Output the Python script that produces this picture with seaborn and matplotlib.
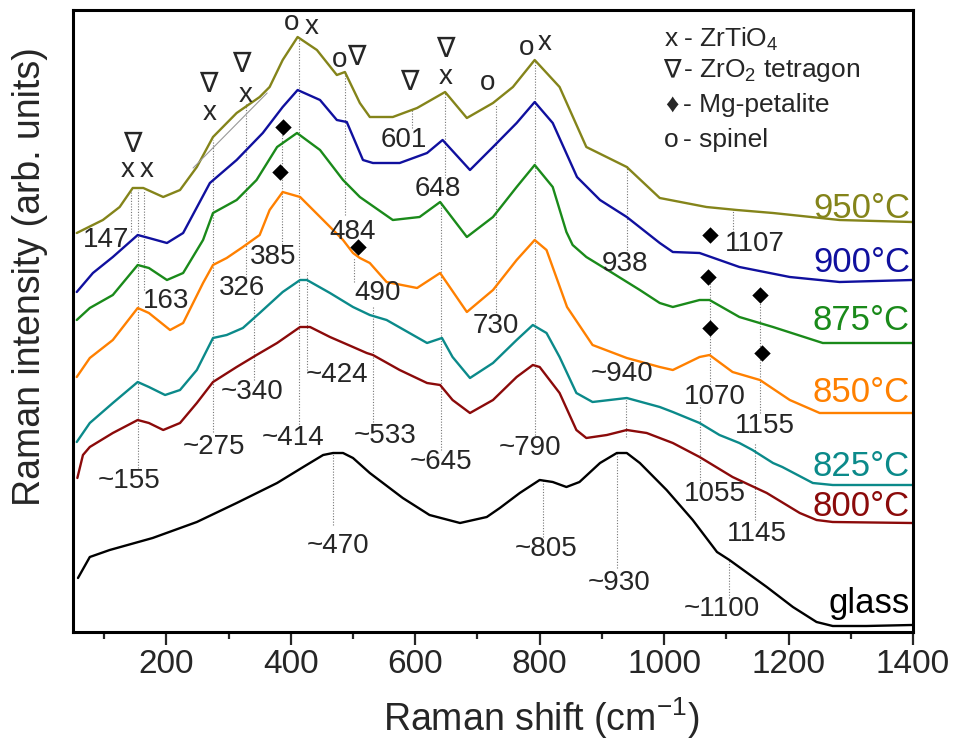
#!/usr/bin/env python3
"""Raman spectra of the glass and of the glass-ceramics heat treated at 800-950 C."""

import matplotlib

matplotlib.use("Agg")
import matplotlib.pyplot as plt
import pandas as pd
import seaborn as sns
from matplotlib.ticker import MultipleLocator

# Spectra (Raman shift in cm-1, intensity in arb. units, offset)
GLASS_X = [58, 77, 109, 178, 249, 313, 378, 420, 452, 468, 484, 500, 527, 580, 623, 672,
           715, 736, 768, 800, 821, 843, 864, 897, 924, 940, 961, 1004, 1046, 1085, 1105,
           1165, 1207, 1245, 1271, 1325, 1398]
GLASS_Y = [54, 75, 82, 94, 110, 129, 149, 165, 177, 179, 179, 174, 159, 134, 117, 109,
           115, 124, 139, 152, 150, 145, 150, 169, 179, 179, 169, 142, 112, 80, 72,
           45, 25, 10, 6, 6, 7]

T800_X = [57, 66, 77, 114, 154, 172, 195, 222, 249, 275, 313, 345, 378, 415, 431, 463,
          500, 522, 532, 575, 619, 640, 660, 688, 725, 763, 789, 800, 832, 859, 875, 908,
          940, 972, 993, 1014, 1057, 1110, 1165, 1218, 1245, 1271, 1398]
T800_Y = [154, 177, 185, 199, 212, 209, 202, 209, 229, 250, 265, 277, 289, 305, 305, 295,
          285, 279, 277, 262, 249, 247, 232, 219, 232, 255, 267, 265, 239, 202, 194, 197,
          202, 199, 194, 189, 175, 155, 139, 119, 112, 110, 109]

T825_X = [56, 77, 114, 154, 172, 198, 222, 249, 275, 297, 323, 350, 387, 415, 426, 463,
          500, 527, 554, 619, 643, 660, 688, 725, 763, 789, 811, 832, 859, 885, 940, 993,
          1014, 1057, 1089, 1121, 1142, 1175, 1190, 1239, 1271, 1398]
T825_Y = [190, 209, 229, 250, 245, 237, 242, 262, 294, 297, 304, 319, 340, 352, 352, 339,
          325, 317, 312, 289, 294, 275, 254, 269, 292, 307, 299, 275, 239, 230, 234, 225,
          220, 209, 197, 189, 182, 169, 165, 149, 147, 147]

T850_X = [56, 77, 114, 154, 172, 206, 227, 259, 275, 297, 323, 350, 366, 387, 415, 452,
          484, 500, 511, 527, 554, 603, 640, 683, 725, 763, 792, 811, 844, 885, 940, 993,
          1014, 1057, 1073, 1110, 1154, 1202, 1250, 1399]
T850_Y = [255, 274, 292, 324, 319, 302, 309, 349, 367, 374, 385, 397, 422, 440, 435, 412,
          392, 379, 374, 369, 350, 344, 359, 320, 342, 372, 392, 382, 325, 287, 274, 265,
          262, 275, 277, 260, 252, 232, 219, 219]

T875_X = [56, 77, 114, 154, 172, 201, 227, 259, 275, 313, 345, 378, 410, 447, 484, 511,
          564, 607, 640, 683, 725, 763, 792, 821, 843, 853, 875, 917, 961, 993, 1014, 1057,
          1073, 1121, 1175, 1255, 1399]
T875_Y = [312, 324, 337, 367, 364, 352, 359, 392, 419, 432, 452, 485, 499, 482, 452, 435,
          412, 415, 430, 395, 415, 445, 467, 445, 400, 387, 375, 359, 342, 329, 325, 332,
          332, 315, 305, 289, 289]

T900_X = [56, 82, 114, 154, 172, 201, 227, 270, 313, 355, 387, 411, 447, 474, 490, 516,
          532, 575, 619, 644, 688, 725, 763, 792, 821, 860, 897, 940, 993, 1014, 1057, 1121,
          1202, 1282, 1399]
T900_Y = [340, 359, 375, 397, 394, 389, 399, 449, 472, 499, 525, 542, 532, 512, 510, 472,
          469, 469, 479, 492, 462, 485, 509, 530, 509, 455, 432, 415, 389, 380, 379, 365,
          355, 350, 352]

T950_X = [56, 98, 125, 146, 163, 195, 222, 249, 275, 313, 350, 366, 387, 411, 442, 474,
          487, 511, 527, 564, 603, 648, 683, 725, 757, 792, 832, 875, 940, 993, 1068, 1117,
          1175, 1282, 1399]
T950_Y = [399, 412, 425, 444, 444, 435, 442, 465, 495, 519, 535, 545, 572, 595, 582, 557,
          560, 529, 515, 515, 524, 540, 514, 529, 545, 572, 545, 485, 465, 434, 425, 422,
          419, 412, 410]

SERIES_NAMES = ["glass", "800°C", "825°C", "850°C", "875°C", "900°C", "950°C"]
SERIES_COLORS = ["#000000", "#8b0a0a", "#0b8a8a", "#ff8000", "#1a8a1a", "#10109e", "#84841a"]
LABEL_Y = [28, 126, 165, 239, 311, 370, 424]

# peak positions: dotted guides (x, top, bottom) and the numbers written next to them
GUIDE_X = [143, 155, 164, 275, 328, 341, 386, 413, 426, 487, 501, 532, 595, 648, 641, 730,
           792, 941, 938, 1110, 1073, 1154, 1057, 1146, 468, 805, 924, 1104]
GUIDE_TOP = [442, 442, 442, 492, 529, 335, 500, 594, 360, 560, 375, 325, 522, 539, 430, 527,
             572, 467, 234, 424, 349, 337, 227, 189, 179, 152, 179, 72]
GUIDE_BOTTOM = [400, 164, 342, 200, 352, 252, 385, 205, 262, 417, 350, 210, 504, 454, 182,
                317, 197, 379, 195, 400, 245, 219, 149, 112, 107, 95, 64, 34]

PEAK_TEXT = ["147", "163", "326", "~340", "385", "~275", "~414", "~424", "484", "490",
             "~533", "601", "648", "730", "~645", "~790", "938", "~940", "1107", "1070",
             "1155", "1055", "1145", "~155", "~470", "~805", "~930", "~1100"]
PEAK_TEXT_X = [103, 199, 321, 338, 371, 276, 403, 474, 500, 540, 551, 582, 636, 730, 641,
               784, 937, 932, 1146, 1081, 1162, 1081, 1149, 140, 476, 810, 927, 1093]
PEAK_TEXT_Y = [392, 331, 344, 240, 375, 185, 194, 257, 400, 339, 196, 492, 443, 306, 170,
               184, 368, 258, 388, 235, 206, 138, 98, 151, 86, 83, 49, 23]

# phase assignment symbols above the 950 C spectrum
PHASE_SYMBOL = ["∇", "x", "x", "∇", "x", "∇", "x", "o", "x", "o", "∇", "∇", "∇", "x", "o",
                "o", "x"]
PHASE_X = [146, 137, 169, 267, 270, 320, 328, 402, 434, 479, 505, 591, 648, 649, 717, 779,
           808]
PHASE_Y = [487, 462, 462, 547, 519, 567, 537, 609, 605, 572, 574, 549, 582, 555, 549, 584,
           589]

# Mg-petalite diamonds
PETALITE_X = [387, 383, 508, 1073, 1070, 1154, 1073, 1157]
PETALITE_Y = [505, 460, 385, 397, 355, 337, 304, 279]

# thin tangent line on the 950 C spectrum
TANGENT_X = [243, 362]
TANGENT_Y = [464, 539]

LEGEND_SYMBOLS = ["x", "∇", "♦", "o"]
LEGEND_TEXT = ["- ZrTiO$_4$", "- ZrO$_2$ tetragon", "- Mg-petalite", "- spinel"]
LEGEND_Y = [593, 562, 527, 492]


def main() -> None:
    """Draw the stacked spectra."""
    sns.set_style("white")
    plt.rcParams["font.family"] = ["Liberation Sans", "DejaVu Sans"]
    plt.rcParams["mathtext.fontset"] = "custom"
    plt.rcParams["mathtext.rm"] = "Liberation Sans"
    plt.rcParams["mathtext.it"] = "Liberation Sans"

    fig = plt.figure(figsize=(9.55, 7.44), dpi=100)
    ax = fig.add_axes([73 / 955, 112 / 744, 840 / 955, 622 / 744])

    spectra = [(GLASS_X, GLASS_Y), (T800_X, T800_Y), (T825_X, T825_Y), (T850_X, T850_Y),
               (T875_X, T875_Y), (T900_X, T900_Y), (T950_X, T950_Y)]
    for (xs, ys), name, color, ly in zip(spectra, SERIES_NAMES, SERIES_COLORS, LABEL_Y):
        frame = pd.DataFrame({"shift": xs, "intensity": ys})
        sns.lineplot(data=frame, x="shift", y="intensity", color=color, lw=1.7,
                     ax=ax, legend=False)
        ax.text(1395, ly, name, color=color, fontsize=25, ha="right", va="center")

    ax.vlines(GUIDE_X, GUIDE_BOTTOM, GUIDE_TOP, colors="#777777", linestyles=(0, (1, 1.5)),
              lw=0.8, zorder=1)
    ax.plot(TANGENT_X, TANGENT_Y, color="#999999", lw=0.8)

    for text, x, y in zip(PEAK_TEXT, PEAK_TEXT_X, PEAK_TEXT_Y):
        ax.text(x, y, text, fontsize=20, ha="center", va="center")
    for sym, x, y in zip(PHASE_SYMBOL, PHASE_X, PHASE_Y):
        ax.text(x, y, sym, fontsize=20, ha="center", va="center")
    sns.scatterplot(x=PETALITE_X, y=PETALITE_Y, marker="D", s=70, color="black", ax=ax,
                    zorder=5, linewidth=0)

    for sym, line, y in zip(LEGEND_SYMBOLS, LEGEND_TEXT, LEGEND_Y):
        ax.text(1012, y, sym, fontsize=19, ha="center", va="center")
        ax.text(1030, y, line, fontsize=19, ha="left", va="center")

    ax.set_xlim(50, 1400)
    ax.set_ylim(0, 622)
    ax.set_xticks(range(200, 1401, 200))
    ax.xaxis.set_minor_locator(MultipleLocator(100))
    ax.set_yticks([])
    ax.tick_params(axis="x", which="major", direction="out", length=9, width=1.6,
                   labelsize=24, pad=3, bottom=True)
    ax.tick_params(axis="x", which="minor", direction="out", length=5, width=1.6,
                   bottom=True)
    for spine in ax.spines.values():
        spine.set_linewidth(2.2)
        spine.set_color("black")
    ax.set_xlabel("")
    ax.set_ylabel("")

    fig.text(383 / 955, 1 - 731 / 744, "Raman shift (cm$^{-1}$)", fontsize=27,
             ha="left", va="baseline")
    fig.text(30 / 955, 1 - 277 / 744, "Raman intensity (arb. units)", fontsize=27,
             rotation=90, ha="center", va="center")

    fig.savefig("out.png", dpi=100)


if __name__ == "__main__":
    main()
